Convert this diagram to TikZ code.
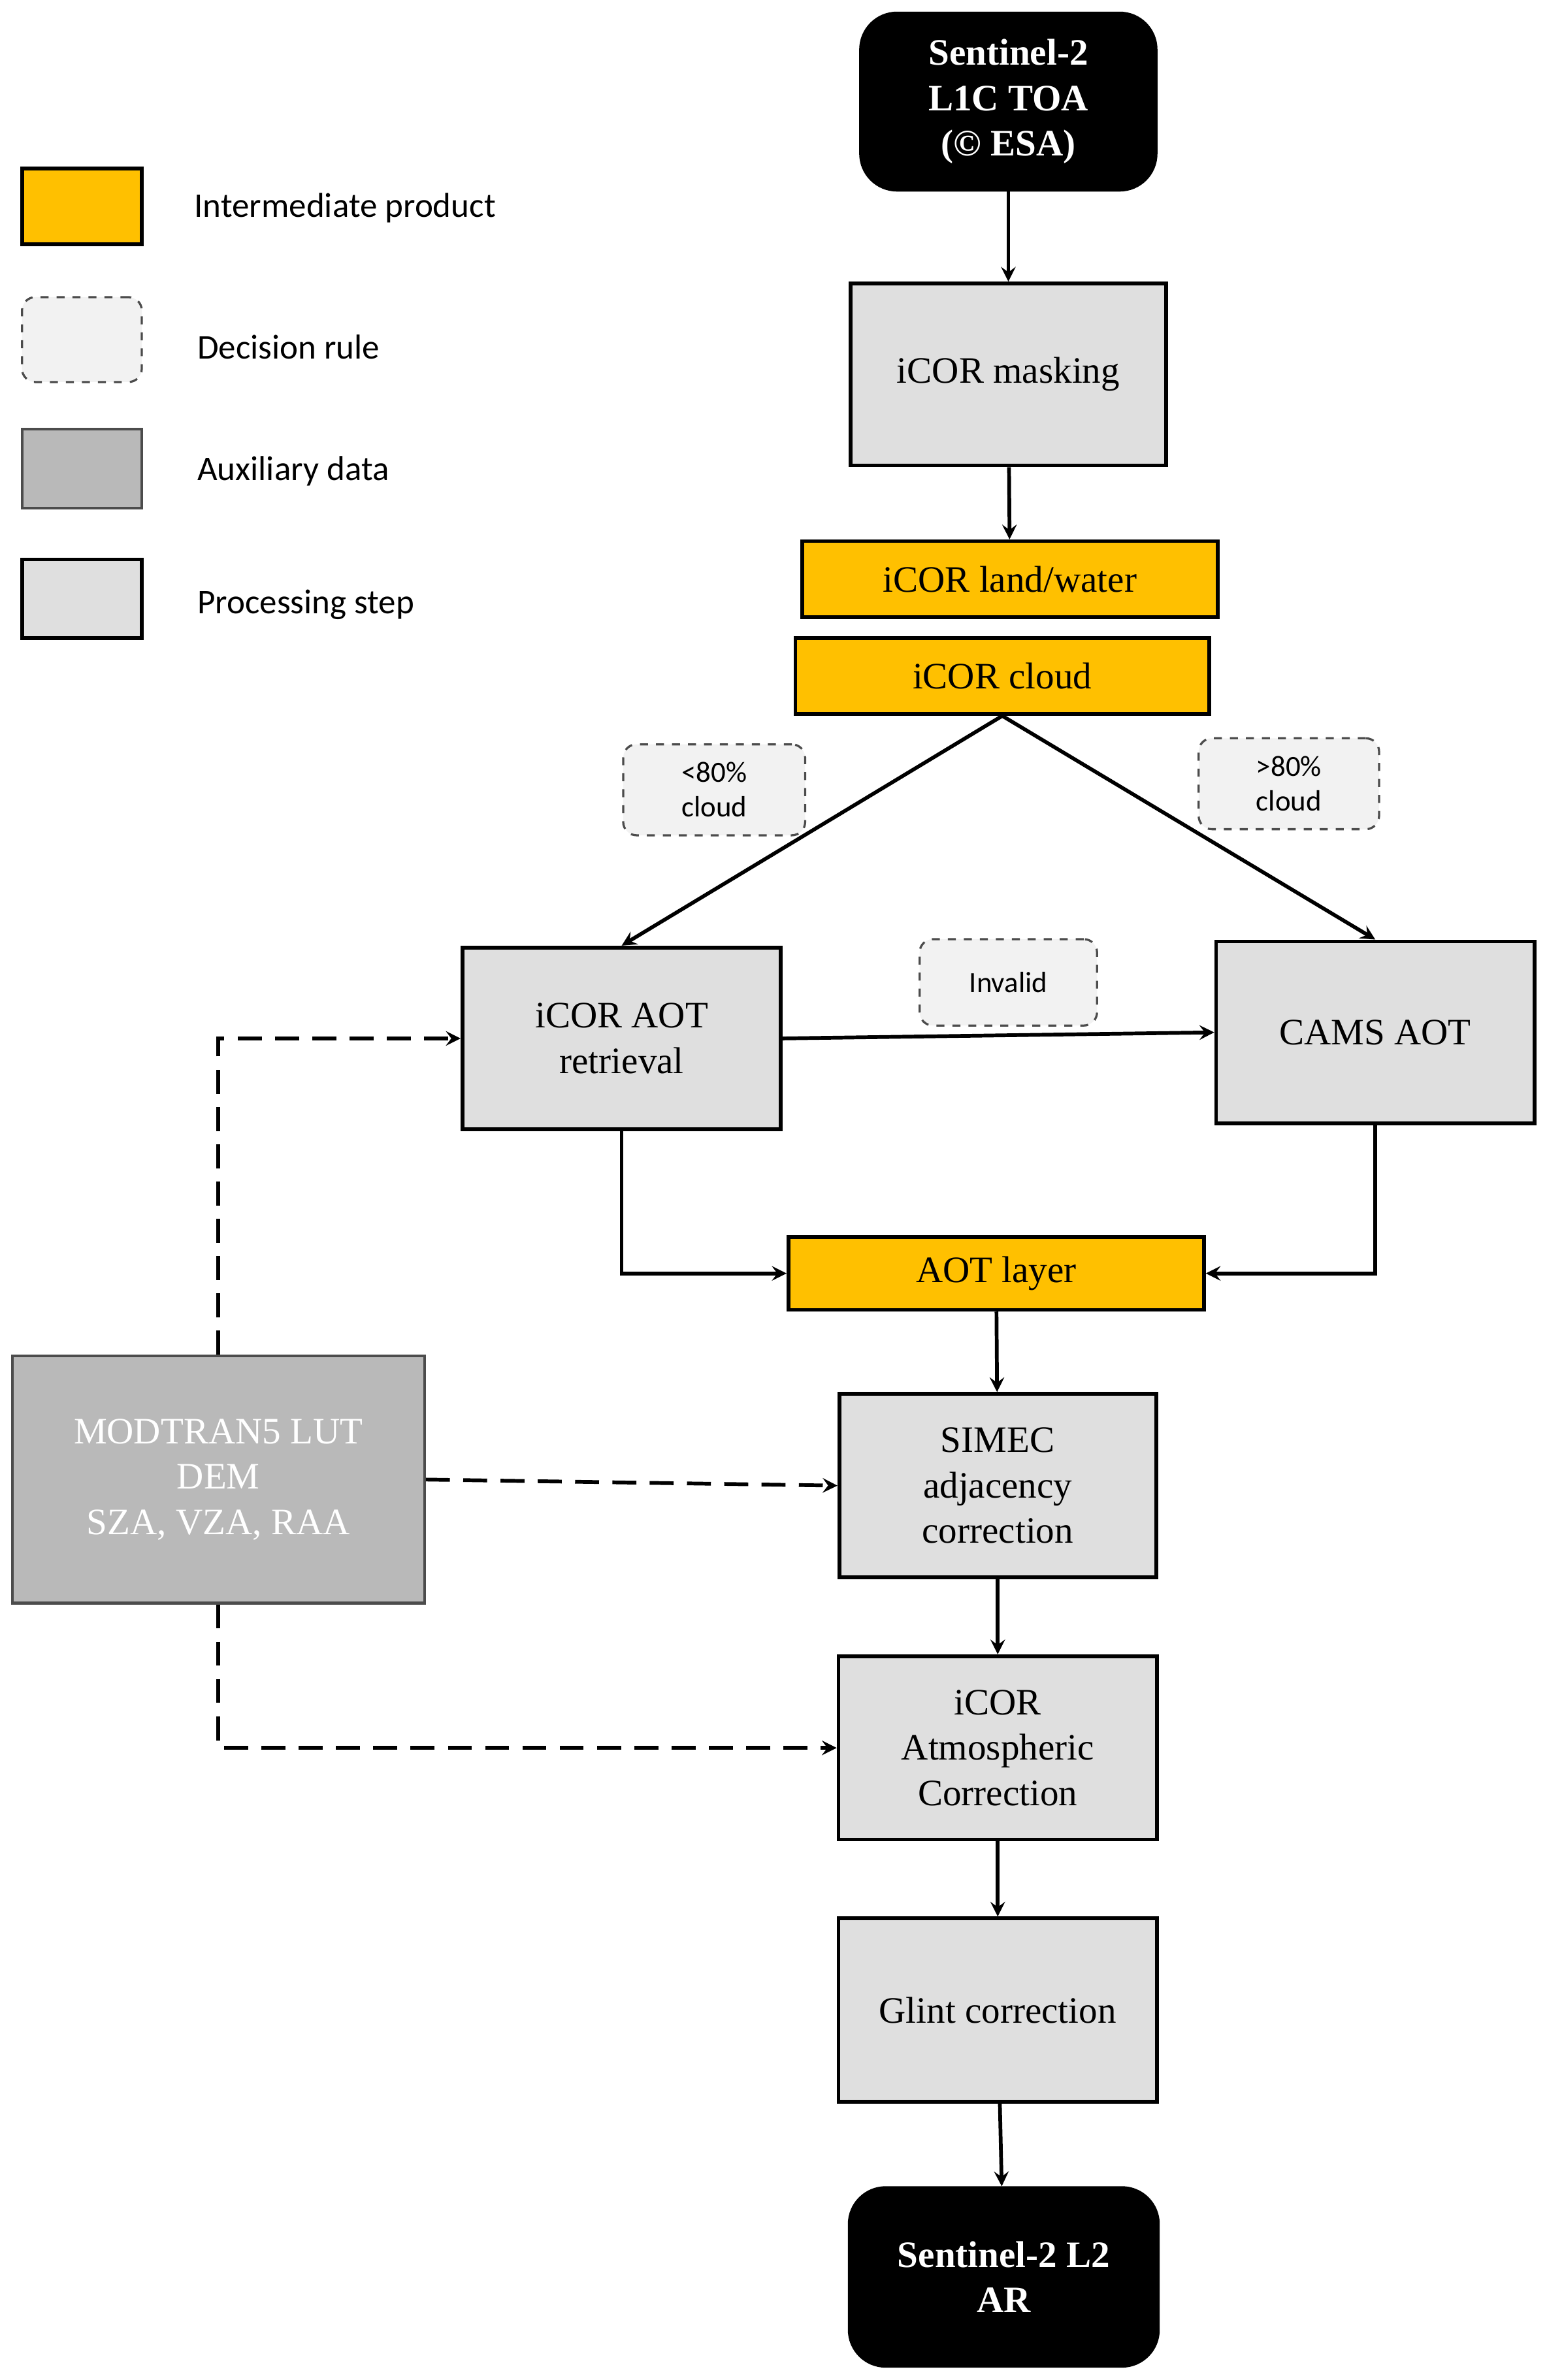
\documentclass[tikz,border=0pt]{standalone}
\usepackage{fontspec}
\setmainfont{Liberation Serif}
\newfontfamily\legfont{Carlito}
\begin{document}
\begin{tikzpicture}[x=0.02cm,y=-0.02cm,
  every node/.style={align=center,font=\fontsize{14}{17}\selectfont},
  proc/.style={draw=black,line width=1.4pt,fill=gray!25,inner sep=0pt},
  inter/.style={draw=black,line width=1.4pt,fill={rgb,255:red,255;green,192;blue,0},inner sep=0pt},
  aux/.style={draw=gray!60!black,line width=1pt,fill=gray!100!black!55,inner sep=0pt,text=white},
  rule/.style={draw=gray!60!black,dashed,line width=0.8pt,fill=gray!10,rounded corners=5pt,inner sep=0pt,font=\legfont\fontsize{11}{13}\selectfont},
  term/.style={draw=black,fill=black,rounded corners=14pt,text=white,font=\bfseries\fontsize{14}{17}\selectfont,inner sep=0pt},
  leg/.style={anchor=west,font=\legfont\fontsize{13}{15}\selectfont},
  arr/.style={->,>=stealth,line width=1.4pt},
  darr/.style={->,>=stealth,line width=1.4pt,dash pattern=on 9pt off 5pt}]
\useasboundingbox (0,0) rectangle (1020,1570);
% legend
\node[inter,minimum width=79*0.02cm,minimum height=50*0.02cm] (l1) at (54,136) {};
\node[rule,minimum width=79*0.02cm,minimum height=56*0.02cm] (l2) at (54,224) {};
\node[aux,minimum width=79*0.02cm,minimum height=52*0.02cm] (l3) at (54,309) {};
\node[proc,minimum width=79*0.02cm,minimum height=52*0.02cm] (l4) at (54,395) {};
\node[leg] (t1) at (122,137) {Intermediate product};
\node[leg] (t2) at (124,229) {Decision rule};
\node[leg] (t3) at (124,311) {Auxiliary data};
\node[leg] (t4) at (124,399) {Processing step};
% flow
\node[term,minimum width=196*0.02cm,minimum height=118*0.02cm] (s2) at (665,67) {Sentinel-2\\L1C TOA\\(\textcopyright{} ESA)};
\node[proc,minimum width=208*0.02cm,minimum height=120*0.02cm] (mask) at (665,247) {iCOR masking};
\node[inter,minimum width=274*0.02cm,minimum height=50*0.02cm] (lw) at (666,382) {iCOR land/water};
\node[inter,minimum width=273*0.02cm,minimum height=50*0.02cm] (cld) at (661,446) {iCOR cloud};
\node[rule,minimum width=120*0.02cm,minimum height=60*0.02cm] (lt) at (471,521) {<80\%\\cloud};
\node[rule,minimum width=119*0.02cm,minimum height=60*0.02cm] (gt) at (850,517) {>80\%\\cloud};
\node[proc,minimum width=210*0.02cm,minimum height=120*0.02cm] (aot) at (410,685) {iCOR AOT\\retrieval};
\node[rule,minimum width=117*0.02cm,minimum height=57*0.02cm] (inv) at (665,648) {Invalid};
\node[proc,minimum width=210*0.02cm,minimum height=120*0.02cm] (cams) at (907,681) {CAMS AOT};
\node[inter,minimum width=274*0.02cm,minimum height=48*0.02cm] (layer) at (657,840) {AOT layer};
\node[aux,minimum width=272*0.02cm,minimum height=163*0.02cm] (mod) at (144,976) {MODTRAN5 LUT\\DEM\\SZA, VZA, RAA};
\node[proc,minimum width=209*0.02cm,minimum height=121*0.02cm] (simec) at (658,980) {SIMEC\\adjacency\\correction};
\node[proc,minimum width=210*0.02cm,minimum height=121*0.02cm] (ac) at (658,1153) {iCOR\\Atmospheric\\Correction};
\node[proc,minimum width=210*0.02cm,minimum height=121*0.02cm] (glint) at (658,1326) {Glint correction};
\node[term,minimum width=205*0.02cm,minimum height=119*0.02cm] (l2a) at (662,1502) {Sentinel-2 L2\\AR};
% connectors
\draw[arr] (s2) -- (mask);
\draw[arr] (mask) -- (lw);
\draw[arr] (cld.south) -- (aot.north);
\draw[arr] (cld.south) -- (cams.north);
\draw[arr] (aot.east) -- (cams.west);
\draw[arr] (aot.south) |- (layer.west);
\draw[arr] (cams.south) |- (layer.east);
\draw[arr] (layer) -- (simec);
\draw[arr] (simec) -- (ac);
\draw[arr] (ac) -- (glint);
\draw[arr] (glint) -- (l2a);
\draw[darr] (mod.north) |- (aot.west);
\draw[darr] (mod.east) -- (simec.west);
\draw[darr] (mod.south) |- (ac.west);
\end{tikzpicture}
\end{document}
